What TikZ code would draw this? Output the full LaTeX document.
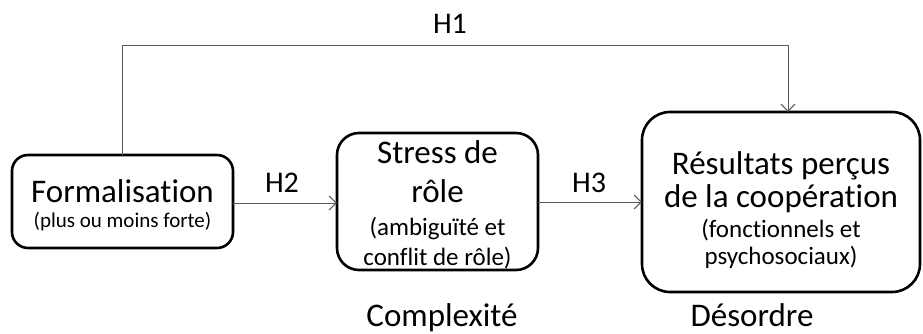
\documentclass[tikz,border=0pt]{standalone}
\usepackage{fontspec}
\setmainfont{Carlito}[Ligatures={NoCommon}]
\usetikzlibrary{arrows.meta}
\begin{document}
\begin{tikzpicture}[x=1pt,y=-1pt,
  box/.style={draw=black,line width=2.6pt,rounded corners=#1,inner sep=0pt},
  conn/.style={draw=black!65,line width=1pt,-{Straight Barb[length=7pt,width=14pt,line width=1pt]}},
  big/.style={font=\fontsize{33}{36}\selectfont,inner sep=0pt,anchor=base},
  mid/.style={font=\fontsize{25}{28}\selectfont,inner sep=0pt,anchor=base},
  small/.style={font=\fontsize{21}{24}\selectfont,inner sep=0pt,anchor=base},
  lab/.style={font=\fontsize{30}{32}\selectfont,inner sep=0pt,anchor=base}]
\useasboundingbox (0,0) rectangle (923,334);
% boxes
\draw[box=16pt] (12,155) rectangle (233,248);
\node[inner sep=0pt,minimum width=221pt,minimum height=93pt] (form) at (122.5,201.5) {};
\draw[box=22pt] (337,133) rectangle (538,270);
\node[inner sep=0pt,minimum width=201pt,minimum height=137pt] (stress) at (437.5,201.5) {};
\draw[box=28pt] (642,112) rectangle (920,292);
\node[inner sep=0pt,minimum width=278pt,minimum height=180pt] (res) at (781,202) {};
% texts
\node[big] (t1) at (122.5,202) {Formalisation};
\node[small] (t2) at (122.5,227) {(plus ou moins forte)};
\node[big] (t3) at (437.5,163) {Stress de};
\node[big] (t4) at (437.5,202) {rôle};
\node[mid] (t5) at (437.5,235) {(ambiguïté et};
\node[mid] (t6) at (437.5,265) {conflit de rôle)};
\node[big] (t7) at (781,174) {Résultats perçus};
\node[big] (t8) at (781,207) {de la coopération};
\node[mid] (t9) at (781,237) {(fonctionnels et};
\node[mid] (t10) at (781,264) {psychosociaux)};
% connectors
\coordinate (h1a) at (122,46);
\coordinate (h1b) at (788,46);
\draw[conn] (form.north -| h1a) -- (h1a) -- (h1b) -- (h1b |- res.north);
\draw[conn] (form.east |- 0,203) -- (stress.west |- 0,203);
\draw[conn] (stress.east |- 0,202) -- (res.west |- 0,202);
% labels
\node[lab] (h1) at (450,34) {H1};
\node[lab] (h2) at (282,192) {H2};
\node[lab] (h3) at (589,192) {H3};
\node[big] (cx) at (442,326) {Complexité};
\node[big] (ds) at (752,326) {Désordre};
\end{tikzpicture}
\end{document}
